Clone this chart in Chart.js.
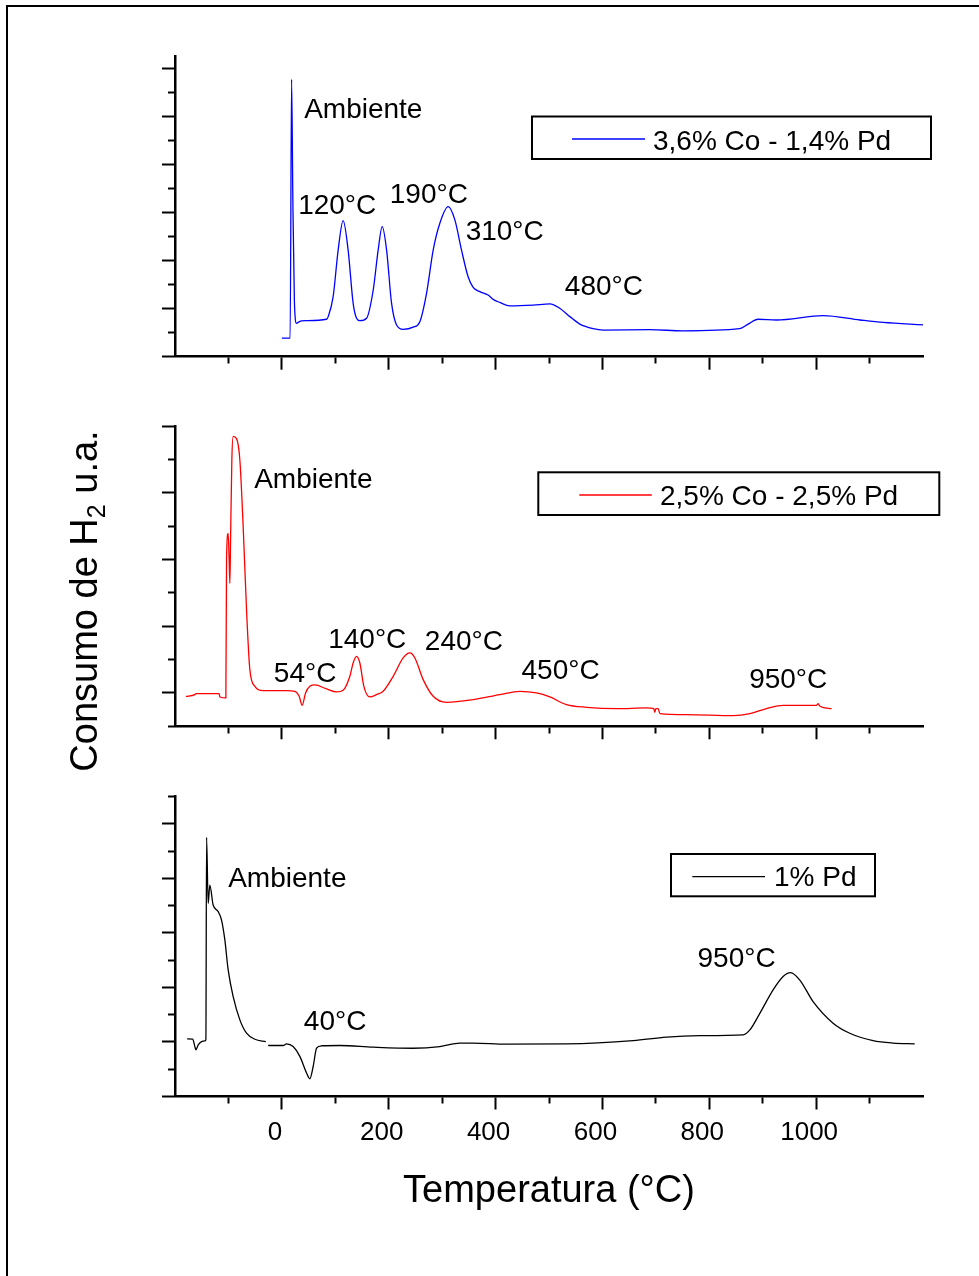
<!DOCTYPE html>
<html><head><meta charset="utf-8">
<script src="https://cdn.jsdelivr.net/npm/chart.js@4.4.0/dist/chart.umd.min.js"></script>
<style>
html,body{margin:0;padding:0;background:#fff;}
#wrap{position:relative;width:979px;height:1276px;overflow:hidden;background:#fff;}
#frame{position:absolute;left:6px;top:5px;width:2000px;height:2000px;border-top:2px solid #000;border-left:2px solid #000;}
canvas{position:absolute;left:0;top:0;}
</style></head><body>
<div id="wrap"><div id="frame"></div>
<canvas id="c1" width="979" height="1276"></canvas>
<canvas id="c2" width="979" height="1276"></canvas>
<canvas id="c3" width="979" height="1276"></canvas>
</div>
<script>
// ---------- data ----------
const xTickLabels = [0, 200, 400, 600, 800, 1000];

const series1Label = '3,6% Co - 1,4% Pd';
const temp1 = [0, 15.5, 18.2, 20.6, 23.4, 27.5, 32, 37, 46, 83.7,
  86.7, 96, 105.4, 114.7, 124, 133.4, 139.8, 146, 158.5, 171,
  180.3, 187.8, 196, 205.3, 214.7, 227, 245.7, 258.3, 270.8, 283.3,
  295.7, 311.3, 323.8, 336.2, 348.6, 358, 370.5, 386, 395.4, 408,
  426.7, 470.3, 501.5, 520, 539, 557.7, 582.6, 601.3, 688.7, 751,
  857, 872.7, 891.4, 925.8, 1013, 1082, 1125.5, 1200];
const signal1 = [0.77, 0.77, 11.56, 6.5, 2.36, 1.39, 1.45, 1.49, 1.5, 1.56,
  1.67, 2.5, 4.45, 5.67, 4.45, 2.23, 1.6, 1.5, 1.6, 2.78,
  4.45, 5.42, 4.45, 2.23, 1.32, 1.14, 1.23, 1.46, 2.64, 4.45,
  5.56, 6.25, 5.7, 4.45, 3.33, 2.89, 2.71, 2.57, 2.39, 2.26,
  2.12, 2.15, 2.2, 2.02, 1.67, 1.36, 1.17, 1.11, 1.125, 1.08,
  1.17, 1.36, 1.56, 1.53, 1.71, 1.53, 1.43, 1.33];

const series2Label = '2,5% Co - 2,5% Pd';
const temp2 = [-179.7, -162.8, -161, -117.4, -116, -104.8, -103.5, -100.5, -98.6, -97.3,
  -96, -93.6, -91.2, -84.8, -78.6, -72.4, -66.1, -59.9, -50.5, -35,
  8.8, 24.3, 32.4, 38, 44.4, 52.4, 61.8, 83.7, 102.4, 114.7,
  127.3, 133.4, 139.8, 146, 153.5, 164.7, 177.2, 189.6, 208.3, 227,
  239.6, 249, 264.5, 283.2, 308.2, 358, 408, 445.4, 476.7, 501.6,
  532.8, 570.3, 626.4, 682.6, 696.2, 698, 700, 704.3, 707.5, 757.4,
  844.7, 876, 907, 938.2, 1000.7, 1003.8, 1007, 1028.8];
const signal2 = [0.90, 0.95, 0.98, 0.98, 0.88, 0.85, 5.04, 5.79, 4.99, 4.29,
  5.59, 7.99, 8.70, 8.63, 7.99, 5.99, 3.49, 1.70, 1.20, 1.07,
  1.07, 1.05, 0.90, 0.63, 1.0, 1.20, 1.24, 1.12, 1.03, 1.08,
  1.50, 1.90, 2.10, 1.90, 1.20, 0.88, 0.95, 1.05, 1.50, 2.05,
  2.20, 2.05, 1.40, 0.90, 0.72, 0.80, 0.95, 1.05, 1.0, 0.88,
  0.65, 0.57, 0.53, 0.55, 0.53, 0.42, 0.53, 0.53, 0.38, 0.35,
  0.32, 0.38, 0.53, 0.63, 0.63, 0.68, 0.60, 0.53];

const series3Label = '1% Pd';
const temp3 = [-177.2, -167.1, -162.8, -161, -156.6, -150.3, -144.1, -142.2, -140.9, -137.9,
  -134.8, -128.6, -119.2, -112.9, -106.7, -100.5, -91.1, -78.6, -66.1, -50.5,
  -30, -28, -25.6, 2.4, 8.8, 21.1, 33.7, 46.2, 52.4, 58.6,
  65, 74.3, 108.5, 170.8, 245.7, 295.7, 333.2, 358, 420.5, 532.8,
  657.5, 719.9, 782.3, 863.4, 875.9, 894.6, 919.5, 938.2, 952, 969.4,
  994.3, 1031.7, 1062.9, 1106.5, 1143.9, 1184.5];
const signal3 = [2.11, 2.10, 1.83, 1.71, 1.89, 2.01, 2.04, 2.08, 9.50, 7.08,
  7.75, 7.02, 6.78, 6.47, 5.74, 4.64, 3.66, 2.81, 2.32, 2.10,
  2.01, null, 1.87, 1.87, 1.93, 1.83, 1.47, 0.86, 0.65, 1.10,
  1.77, 1.86, 1.87, 1.81, 1.77, 1.83, 1.96, 1.96, 1.92, 1.93,
  2.05, 2.18, 2.23, 2.26, 2.44, 3.05, 3.91, 4.40, 4.54, 4.27,
  3.48, 2.69, 2.32, 2.05, 1.96, 1.93];

const notes1 = ['Ambiente', '120°C', '190°C', '310°C', '480°C'];
const notes1X = [41.7, 30.5, 202, 344, 529.7];
const notes1Y = [9.93, 5.95, 6.39, 4.86, 2.57];
const notes2 = ['Ambiente', '54°C', '140°C', '240°C', '450°C', '950°C'];
const notes2X = [-51.8, -15, 86.7, 267.6, 448.6, 874.6];
const notes2Y = [7.14, 1.32, 2.35, 2.30, 1.42, 1.15];
const notes3 = ['Ambiente', '40°C', '950°C'];
const notes3X = [-100.5, 41.2, 778];
const notes3Y = [7.69, 2.44, 4.76];

const xTitle = 'Temperatura (°C)';
const yTitleParts = ['Consumo de H', '2', ' u.a.'];

// ---------- rendering ----------
const FAM = '"Liberation Sans", Arial, Helvetica, sans-serif';

const decor = {
  id: 'decor',
  afterDatasetsDraw(chart, args, o) {
    const ctx = chart.ctx, xs = chart.scales.x, ys = chart.scales.y;
    ctx.save();
    ctx.fillStyle = '#000';
    ctx.font = '28px ' + FAM;
    ctx.textAlign = 'left';
    ctx.textBaseline = 'alphabetic';
    o.texts.forEach((t, i) => ctx.fillText(t, xs.getPixelForValue(o.xs[i]), ys.getPixelForValue(o.ys[i])));
    const L = o.legend;
    ctx.lineWidth = 2;
    ctx.strokeStyle = '#000';
    ctx.strokeRect(L.left, L.top, L.w, L.h);
    const ds = chart.data.datasets[0];
    ctx.strokeStyle = ds.borderColor;
    ctx.lineWidth = 1.3;
    ctx.beginPath();
    ctx.moveTo(L.left + L.l1, L.top + L.ly);
    ctx.lineTo(L.left + L.l2, L.top + L.ly);
    ctx.stroke();
    ctx.fillText(ds.label, L.left + L.tx, L.top + L.ty);
    ctx.restore();
  }
};

const yTitlePlugin = {
  id: 'ytitle',
  afterDraw(chart) {
    const ctx = chart.ctx;
    ctx.save();
    ctx.translate(97, 601);
    ctx.rotate(-Math.PI / 2);
    ctx.fillStyle = '#000';
    ctx.textBaseline = 'alphabetic';
    ctx.textAlign = 'left';
    const big = '38px ' + FAM, small = '25px ' + FAM;
    ctx.font = big; const w1 = ctx.measureText(yTitleParts[0]).width;
    ctx.font = small; const w2 = ctx.measureText(yTitleParts[1]).width;
    ctx.font = big; const w3 = ctx.measureText(yTitleParts[2]).width;
    let x = -(w1 + w2 + w3) / 2;
    ctx.font = big; ctx.fillText(yTitleParts[0], x, 0); x += w1;
    ctx.font = small; ctx.fillText(yTitleParts[1], x, 8); x += w2;
    ctx.font = big; ctx.fillText(yTitleParts[2], x, 0);
    ctx.restore();
  }
};

function pts(t, s) { return t.map((v, i) => ({x: v, y: s[i]})); }

function makePanel(id, p) {
  const isMajorY = v => (p.majorOdd ? Math.abs(v % 2) === 1 : v % 2 === 0);
  return new Chart(document.getElementById(id), {
    type: 'line',
    data: {datasets: [{
      label: p.label, data: pts(p.t, p.s), borderColor: p.color, backgroundColor: p.color,
      borderWidth: 1.3, pointRadius: 0, fill: false, cubicInterpolationMode: 'monotone', spanGaps: false
    }]},
    options: {
      responsive: false, animation: false, devicePixelRatio: 1,
      layout: {padding: {top: p.top, right: 56, bottom: p.padBottom, left: 0}},
      plugins: {legend: {display: false}, tooltip: {enabled: false},
        decor: {texts: p.notes, xs: p.notesX, ys: p.notesY, legend: p.legend}},
      scales: {
        x: {
          type: 'linear', min: -200, max: 1200,
          ticks: {stepSize: 100, display: p.showX, autoSkip: false, maxRotation: 0, labelOffset: -7, padding: 8,
            color: '#000', font: {size: 26, family: FAM},
            callback: v => (xTickLabels.includes(v) ? String(v) : '')},
          grid: {drawOnChartArea: false, drawTicks: true, tickLength: 13, tickWidth: 2,
            tickColor: c => ((c.tick && (c.tick.value === -200 || c.tick.value === 1200)) ? 'rgba(0,0,0,0)' : '#000'),
            tickBorderDash: c => ((c.tick && c.tick.value % 200 === 0) ? [] : [6, 100])},
          border: {display: true, color: '#000', width: 2.5},
          title: {display: p.showX, text: xTitle, color: '#000', font: {size: 38, family: FAM}, padding: {top: 0, bottom: 12}},
          afterFit: s => { s.height = p.xh; }
        },
        y: {
          min: 0, max: p.ymax,
          ticks: {stepSize: 1, display: false, includeBounds: false},
          grid: {drawOnChartArea: false, drawTicks: true, tickLength: 13, tickWidth: 2, tickColor: '#000',
            tickBorderDash: c => ((c.tick && isMajorY(c.tick.value)) ? [] : [7, 6]),
            tickBorderDashOffset: c => ((c.tick && isMajorY(c.tick.value)) ? 0 : 7)},
          border: {display: true, color: '#000', width: 2.5},
          afterFit: s => { s.width = 175; }
        }
      }
    },
    plugins: p.extra ? [decor, p.extra] : [decor]
  });
}

makePanel('c1', {label: series1Label, t: temp1, s: signal1, color: '#0000ff', top: 56.7, padBottom: 1276 - 356.7 - 20, xh: 20,
  showX: false, ymax: 12.5, majorOdd: false, notes: notes1, notesX: notes1X, notesY: notes1Y,
  legend: {left: 532, top: 116.5, w: 399, h: 42.5, l1: 40, l2: 113, ly: 22.5, tx: 121, ty: 33}});
makePanel('c2', {label: series2Label, t: temp2, s: signal2, color: '#ff0000', top: 426.3, padBottom: 1276 - 726.3 - 20, xh: 20,
  showX: false, ymax: 9, majorOdd: true, notes: notes2, notesX: notes2X, notesY: notes2Y,
  legend: {left: 538.3, top: 472.3, w: 401, h: 42.7, l1: 41, l2: 113.5, ly: 22.7, tx: 121.7, ty: 32.7}, extra: yTitlePlugin});
makePanel('c3', {label: series3Label, t: temp3, s: signal3, color: '#000000', top: 796.5, padBottom: 1276 - 1096.5 - 130, xh: 130,
  showX: true, ymax: 11, majorOdd: false, notes: notes3, notesX: notes3X, notesY: notes3Y,
  legend: {left: 671, top: 854, w: 204, h: 42.3, l1: 21.3, l2: 94, ly: 22.7, tx: 103, ty: 32}});
</script>
</body></html>
